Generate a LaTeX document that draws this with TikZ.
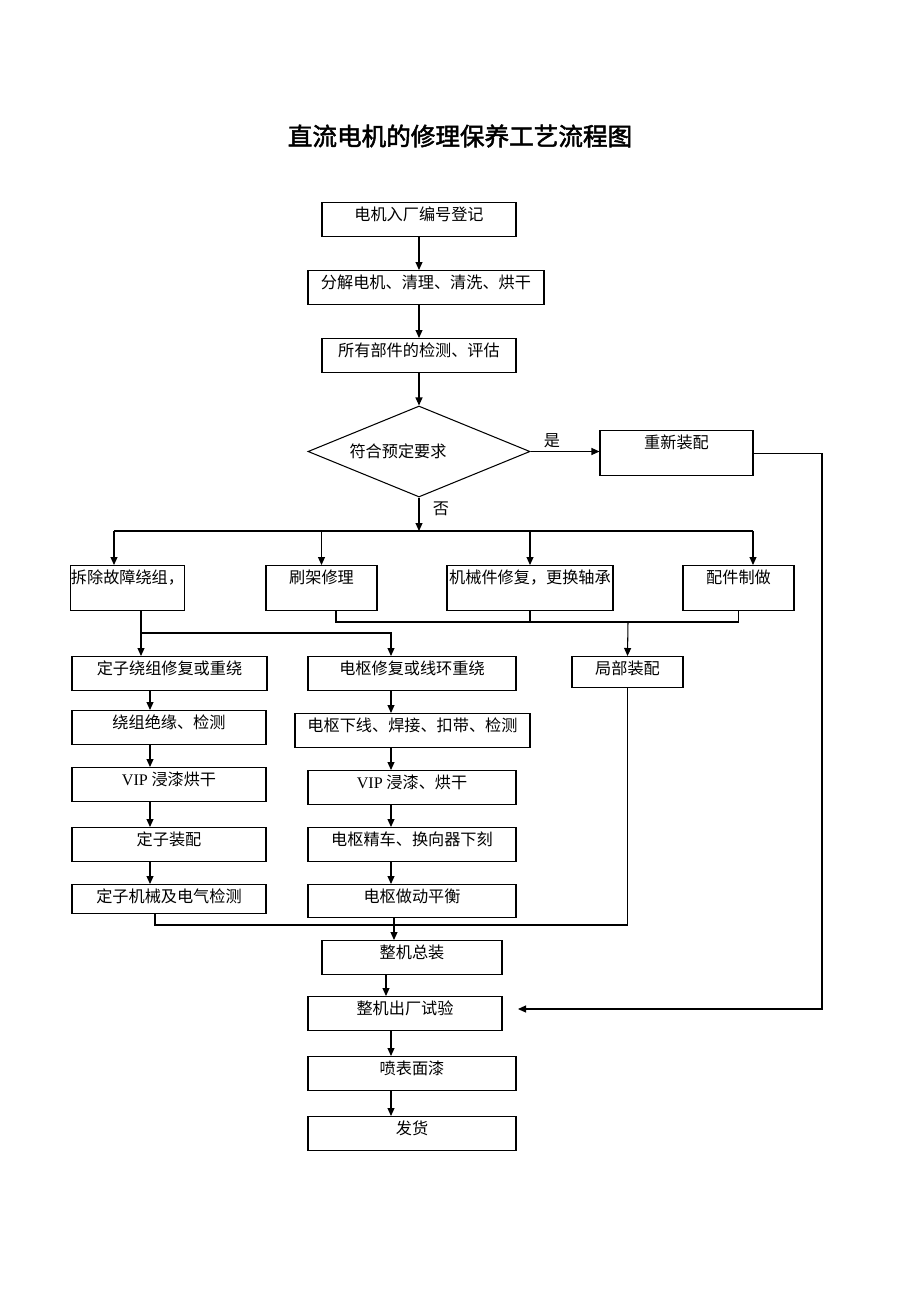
\documentclass[tikz,border=0pt]{standalone}
\usepackage{fontspec}
\setmainfont{Liberation Serif}
\newfontfamily\cjk[AutoFakeBold=2]{Noto Sans CJK SC}
\usetikzlibrary{arrows.meta,shapes.geometric}
\newdimen\px \px=0.02cm

\begin{document}
\begin{tikzpicture}[x=0.02cm, y=-0.02cm, line width=0.6pt,
  font=\cjk\fontsize{9.2}{11}\selectfont,
  box/.style={draw, anchor=north, inner sep=0pt, text height=18\px, text depth=#1},
  box/.default=16\px,
  decide/.style={draw, diamond, inner sep=0pt, aspect=2.44, minimum width=222\px, minimum height=91\px},
  arr/.style={-{Triangle[length=1.6mm,width=1.4mm]}}]

  \useasboundingbox (0,0) rectangle (920,1302);

  %%%%% TITLE %%%%%
  \node[font=\cjk\bfseries\fontsize{14}{16}\selectfont] (title) at (460,136) {直流电机的修理保养工艺流程图};

  %%%%% MAIN LINE %%%%%
  \node[box, minimum width=194\px] (b1) at (419,202) {电机入厂编号登记};
  \node[box, minimum width=236\px] (b2) at (426,270) {分解电机、清理、清洗、烘干};
  \node[box, minimum width=194\px] (b3) at (419,338) {所有部件的检测、评估};
  \node[decide] (check) at (419,451.5) {符合预定要求\kern42\px};
  \node[box=27\px, minimum width=153\px] (re) at (676.5,430) {重新装配};
  \node (yes) at (552,441) {是};
  \node (no) at (441,509) {否};

  %%%%% BRANCHES %%%%%
  \node[box=27\px, minimum width=111\px] (t1) at (127.5,565) {拆除故障绕组，};
  \node[box=27\px, minimum width=111\px] (t2) at (321.5,565) {刷架修理};
  \node[box=27\px, minimum width=166\px] (t3) at (530,565) {机械件修复，更换轴承};
  \node[box=27\px, minimum width=111\px] (t4) at (738.5,565) {配件制做};
  \node[box=13\px, minimum width=111\px] (part) at (627.5,656) {局部装配};

  %%%%% STATOR %%%%%
  \node[box, minimum width=195\px] (s1) at (169.5,656) {定子绕组修复或重绕};
  \node[box, minimum width=194\px] (s2) at (169,710) {绕组绝缘、检测};
  \node[box, minimum width=194\px] (s3) at (169,767) {{\rmfamily VIP} 浸漆烘干};
  \node[box, minimum width=194\px] (s4) at (169,827) {定子装配};
  \node[box=11\px, minimum width=194\px] (s5) at (169,884) {定子机械及电气检测};

  %%%%% ARMATURE %%%%%
  \node[box, minimum width=208\px] (a1) at (412,656) {电枢修复或线环重绕};
  \node[box, minimum width=235\px] (a2) at (412.5,713) {电枢下线、焊接、扣带、检测};
  \node[box, minimum width=208\px] (a3) at (412,770) {{\rmfamily VIP} 浸漆、烘干};
  \node[box, minimum width=208\px] (a4) at (412,827) {电枢精车、换向器下刻};
  \node[box=15\px, minimum width=208\px] (a5) at (412,884) {电枢做动平衡};

  %%%%% FINAL %%%%%
  \node[box, minimum width=180\px] (g1) at (412,940) {整机总装};
  \node[box, minimum width=194\px] (g2) at (405,996) {整机出厂试验};
  \node[box, minimum width=208\px] (g3) at (412,1056) {喷表面漆};
  \node[box, minimum width=208\px] (g4) at (412,1116) {发货};

  %%%%% CONNECTORS %%%%%
  \coordinate (fork) at (419,531);
  \coordinate (fl) at (114,531);
  \coordinate (fr) at (753,531);
  \coordinate (mj) at (628,622);
  \coordinate (sj) at (141,633);
  \coordinate (sc) at (150,0);
  \coordinate (ac) at (391,0);
  \coordinate (sd) at (155,0);
  \coordinate (bj) at (394,925);
  \coordinate (gc) at (386,0);
  \coordinate (rr) at (822,1009);
  \coordinate (rt) at (518,1009);

  \draw[arr] (b1.south) -- (b1.south |- b2.north);
  \draw[arr] (b3.north |- b2.south) -- (b3.north);
  \draw[arr] (b3.south) -- (check.north);
  \draw[arr] (check.east) -- (check.east -| re.west);
  \draw[arr] (check.south) -- (fork);

  \draw (fl) -- (fr);
  \draw[arr] (fl) -- (fl |- t1.north);
  \draw[arr] (fork -| t2) -- (t2.north);
  \draw[arr] (fork -| t3) -- (t3.north);
  \draw[arr] (fr) -- (fr |- t4.north);

  \draw ([xshift=14.5\px]t2.south) |- (mj) -| (t4.south);
  \draw (t3.south) -- (t3.south |- mj);
  \draw[arr] (mj) -- (part.north);

  \draw (sj |- t1.south) -- (sj);
  \draw[arr] (sj) -- (sj |- s1.north);
  \draw[arr] (sj) -| (ac |- a1.north);

  \foreach \u/\v in {s1/s2,s2/s3,s3/s4,s4/s5}
    \draw[arr] (sc |- \u.south) -- (sc |- \v.north);
  \foreach \u/\v in {a1/a2,a2/a3,a3/a4,a4/a5}
    \draw[arr] (ac |- \u.south) -- (ac |- \v.north);

  \draw (sd |- s5.south) |- (part.south |- bj) -- (part.south);
  \draw[arr] (bj |- a5.south) -- (bj |- g1.north);
  \draw[arr] (gc |- g1.south) -- (gc |- g2.north);
  \draw[arr] (ac |- g2.south) -- (ac |- g3.north);
  \draw[arr] (ac |- g3.south) -- (ac |- g4.north);

  \draw[arr] (re.east) -| (rr) -- (rt);

\end{tikzpicture}
\end{document}
